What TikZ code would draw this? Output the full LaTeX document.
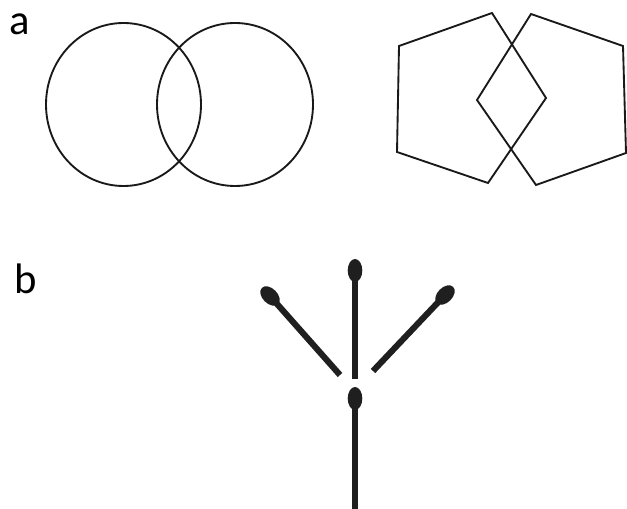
\documentclass[tikz,border=0pt]{standalone}
\usepackage{fontspec}
\setmainfont{Carlito}
\begin{document}
\begin{tikzpicture}[x=0.75pt,y=-0.75pt,
  outline/.style={draw=black!90,line width=1.4pt,line join=miter},
  stick/.style={draw=black!88,line width=4.6pt},
  headfill/.style={fill=black!88},
  lbl/.style={anchor=base west,inner sep=0pt,font=\fontsize{32}{36}\selectfont}]
\useasboundingbox (0,0) rectangle (627,509);
% labels
\node[lbl] (la) at (9,35) {a};
\node[lbl] (lb) at (14,293) {b};
% circles
\draw[outline] (123.5,104.5) ellipse [x radius=77.5,y radius=81.5];
\draw[outline] (235,104.5) ellipse [x radius=78,y radius=81.5];
% pentagons
\draw[outline] (399,46) -- (492,13) -- (546,98) -- (488,183) -- (397,152) -- cycle;
\draw[outline] (531,14) -- (623,46) -- (626,153) -- (536,185) -- (477,100) -- cycle;
% part b
\coordinate (tophead) at (355,270.5);
\coordinate (topend) at (355,379);
\coordinate (lhead) at (270,296);
\coordinate (lend) at (340,375);
\coordinate (rhead) at (445,295);
\coordinate (rend) at (373,371);
\coordinate (bhead) at (355,398.5);
\coordinate (bend) at (355,512);
\draw[stick] (tophead) -- (topend);
\draw[stick] (lhead) -- (lend);
\draw[stick] (rhead) -- (rend);
\draw[stick] (bhead) -- (bend);
\fill[headfill] (tophead) ellipse [x radius=7.3,y radius=11.5];
\fill[headfill] (bhead) ellipse [x radius=7.3,y radius=11.5];
\fill[headfill,rotate around={45:(lhead)}] (lhead) ellipse [x radius=7.5,y radius=11.5];
\fill[headfill,rotate around={-45:(rhead)}] (rhead) ellipse [x radius=7.5,y radius=11.5];
\end{tikzpicture}
\end{document}
